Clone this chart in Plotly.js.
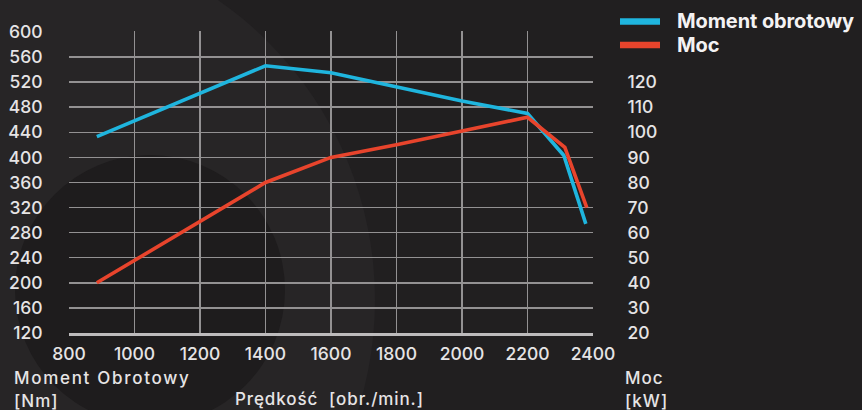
<!DOCTYPE html>
<html>
<head>
<meta charset="utf-8">
<script src="https://cdn.plot.ly/plotly-3.0.1.min.js"></script>
<style>
html,body{margin:0;padding:0;background:#211f20;}
#chart{width:862px;height:410px;}
</style>
</head>
<body>
<div id="chart"></div>
<script>
// ---- data ----
const torqueRpm = [885, 1400, 1600, 1800, 2000, 2200, 2311, 2378];
const torqueNm  = [433, 546, 535, 512, 490, 470, 403, 294];
const powerRpm  = [885, 1400, 1600, 1800, 2000, 2200, 2314, 2381];
const powerKw   = [40, 80, 90, 95, 100.5, 106, 94, 70];
const xTicks    = [800, 1000, 1200, 1400, 1600, 1800, 2000, 2200, 2400];
const yTicksNm  = [120, 160, 200, 240, 280, 320, 360, 400, 440, 480, 520, 560, 600];
const yTicksKw  = [20, 30, 40, 50, 60, 70, 80, 90, 100, 110, 120];
const seriesNames = ['Moment obrotowy', 'Moc'];

// ---- styling ----
const BLUE = '#1fb5de';
const RED = '#e8442c';
const TXT = '#e6e4e5';
const GRID = '#939192';
const FONT = 'Inter, "Open Sans", sans-serif';

const W = 862, H = 410;
const mL = 69, mR = W - 593, mT = 31, mB = H - 333;
const pw = W - mL - mR, ph = H - mT - mB;
const px = x => (x - mL) / pw;
const py = y => (H - mB - y) / ph;

const traces = [
  {x: torqueRpm, y: torqueNm, name: seriesNames[0], type: 'scatter', mode: 'lines',
   line: {color: BLUE, width: 3.6}, yaxis: 'y', showlegend: false, hoverinfo: 'skip'},
  {x: powerRpm, y: powerKw, name: seriesNames[1], type: 'scatter', mode: 'lines',
   line: {color: RED, width: 3.6}, yaxis: 'y2', showlegend: false, hoverinfo: 'skip'}
];

const shapes = [
  {type: 'circle', xref: 'paper', yref: 'paper', layer: 'below',
   x0: px(10 - 365), x1: px(10 + 365), y0: py(300 + 365), y1: py(300 - 365),
   fillcolor: '#272526', line: {width: 0}},
  {type: 'circle', xref: 'paper', yref: 'paper', layer: 'below',
   x0: px(150 - 135), x1: px(150 + 135), y0: py(290 + 135), y1: py(290 - 135),
   fillcolor: '#1e1c1d', line: {width: 0}},
  {type: 'line', xref: 'paper', yref: 'paper', x0: px(620), x1: px(660), y0: py(21.5), y1: py(21.5),
   line: {color: BLUE, width: 6.5}},
  {type: 'line', xref: 'paper', yref: 'paper', x0: px(620), x1: px(660), y0: py(45), y1: py(45),
   line: {color: RED, width: 6.5}}
];

const sp = (t, ls) => '<span style="letter-spacing:' + ls + 'px">' + t + '</span>';
const ann = (text, x, y, opts) => Object.assign({
  text: text, xref: 'paper', yref: 'paper', x: px(x), y: py(y),
  xanchor: 'left', yanchor: 'middle', showarrow: false,
  font: {family: FONT, size: 17, color: TXT, weight: 500}
}, opts || {});

const legendFont = {family: FONT, size: 20, color: '#f4f2f3', weight: 700};
const annotations = [
  ann(sp(seriesNames[0], -0.1), 675, 21, {font: legendFont}),
  ann(sp(seriesNames[1], -0.1), 675, 45, {font: legendFont}),
  ann(sp('Moment Obrotowy', 1.7), 12, 378),
  ann(sp('[Nm]', 1.0), 12, 401),
  ann(sp('Prędkość&nbsp;&nbsp;[obr./min.]', 0.9), 329, 399, {xanchor: 'center'}),
  ann(sp('Moc', 1.0), 623, 378),
  ann(sp('[kW]', 1.0), 623, 401)
];

const tickFont = {family: FONT, size: 17.5, color: TXT, weight: 500};
const layout = {
  width: W, height: H,
  margin: {l: mL, r: mR, t: mT, b: mB, pad: 0},
  paper_bgcolor: '#211f20',
  plot_bgcolor: 'rgba(0,0,0,0)',
  font: {family: FONT, color: TXT, size: 17},
  showlegend: false,
  xaxis: {
    range: [800, 2400], tickvals: xTicks, ticktext: xTicks.map(String),
    showgrid: true, gridcolor: GRID, gridwidth: 1.5,
    zeroline: false, showline: true, linecolor: '#bdbbbc', linewidth: 2.5,
    ticks: 'outside', ticklen: 3, tickcolor: 'rgba(0,0,0,0)',
    tickfont: tickFont, fixedrange: true
  },
  yaxis: {
    range: [120, 601.5], tickvals: yTicksNm, ticktext: yTicksNm.map(String),
    showgrid: true, gridcolor: GRID, gridwidth: 1.5,
    zeroline: false, showline: false,
    ticks: 'outside', ticklen: 22, tickcolor: 'rgba(0,0,0,0)',
    tickfont: tickFont, fixedrange: true
  },
  yaxis2: {
    overlaying: 'y', side: 'right',
    range: [20, 140.375], tickvals: yTicksKw, ticktext: yTicksKw.map(String),
    showgrid: false, zeroline: false, showline: false,
    ticks: 'outside', ticklen: 30, tickcolor: 'rgba(0,0,0,0)',
    tickfont: tickFont, fixedrange: true
  },
  shapes: shapes,
  annotations: annotations
};

Plotly.newPlot('chart', traces, layout, {displayModeBar: false, staticPlot: true});
</script>
</body>
</html>
